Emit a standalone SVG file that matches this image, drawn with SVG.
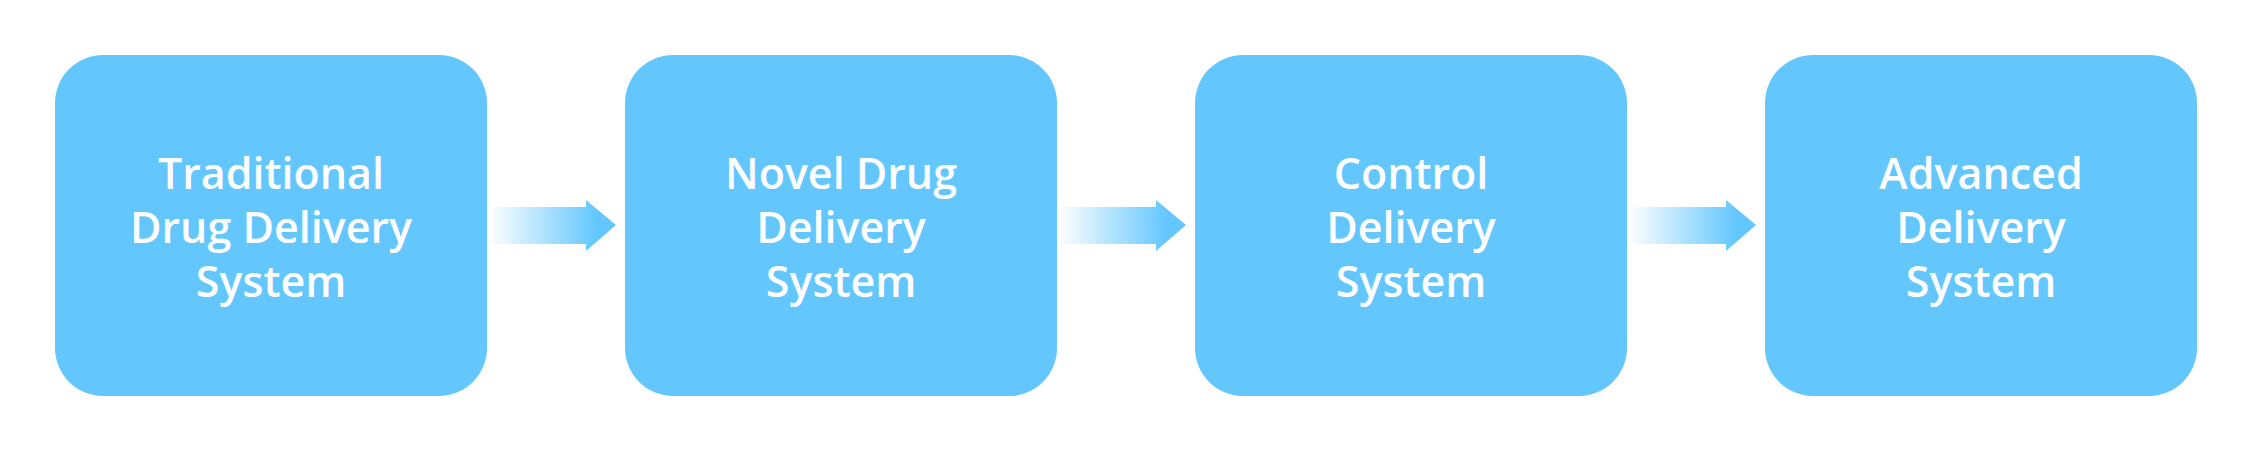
<svg xmlns="http://www.w3.org/2000/svg" width="2250" height="452" viewBox="0 0 2250 452">
<style>
.box{fill:#63C7FE}
.lbl{font-family:"Open Sans","Noto Sans","Liberation Sans",sans-serif;font-weight:600;font-size:43px;fill:#ffffff;text-anchor:middle}
</style>
<defs>
<linearGradient id="ag" x1="0" y1="0" x2="1" y2="0">
<stop offset="0" stop-color="#63C7FE" stop-opacity="0"/>
<stop offset="0.85" stop-color="#63C7FE" stop-opacity="1"/>
</linearGradient>
<path id="arrow" d="M0,7 H98 V0 L128,25 L98,51 V44 H0 Z" fill="url(#ag)" stroke-linejoin="round"/>
</defs>
<rect width="2250" height="452" fill="#ffffff"/>
<g id="connectors">
<use href="#arrow" x="488" y="200"/>
<use href="#arrow" x="1058" y="200"/>
<use href="#arrow" x="1628" y="200"/>
</g>
<g id="node1">
<rect class="box" x="55" y="55" width="432" height="341" rx="48"/>
<text class="lbl" x="271" y="189">Traditional</text>
<text class="lbl" x="271" y="243">Drug Delivery</text>
<text class="lbl" x="271" y="297">System</text>
</g>
<g id="node2">
<rect class="box" x="625" y="55" width="432" height="341" rx="48"/>
<text class="lbl" x="841" y="189">Novel Drug</text>
<text class="lbl" x="841" y="243">Delivery</text>
<text class="lbl" x="841" y="297">System</text>
</g>
<g id="node3">
<rect class="box" x="1195" y="55" width="432" height="341" rx="48"/>
<text class="lbl" x="1411" y="189">Control</text>
<text class="lbl" x="1411" y="243">Delivery</text>
<text class="lbl" x="1411" y="297">System</text>
</g>
<g id="node4">
<rect class="box" x="1765" y="55" width="432" height="341" rx="48"/>
<text class="lbl" x="1981" y="189">Advanced</text>
<text class="lbl" x="1981" y="243">Delivery</text>
<text class="lbl" x="1981" y="297">System</text>
</g>
</svg>
